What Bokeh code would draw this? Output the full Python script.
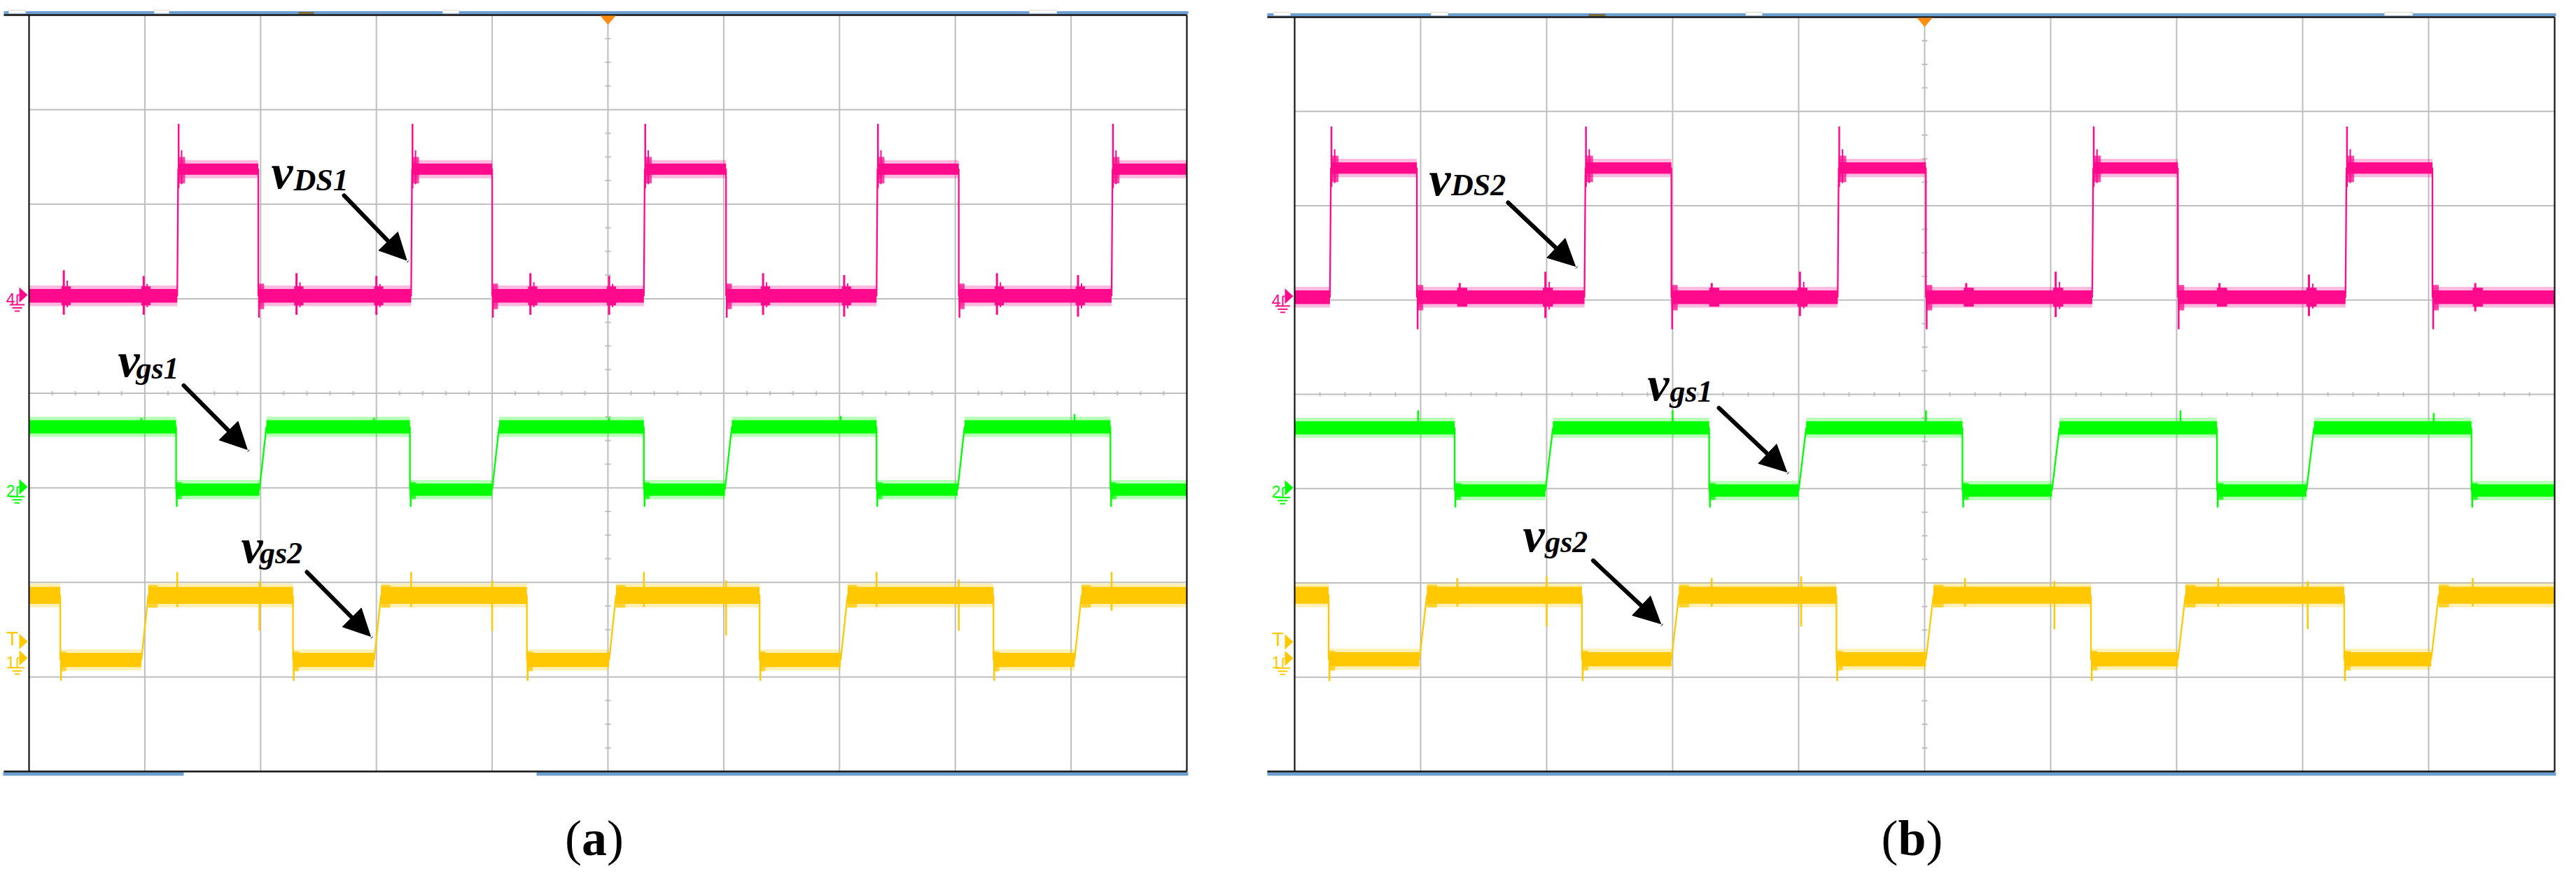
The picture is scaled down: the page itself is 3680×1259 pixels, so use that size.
import numpy as np
from bokeh.plotting import figure
from bokeh.layouts import row
from bokeh.models import Arrow, NormalHead, Range1d
from bokeh.core.properties import value
from bokeh.embed import file_html
from bokeh.resources import INLINE

# ---------------- values (oscilloscope divisions) ----------------
# x: 0..10 time divisions, y: 0..8 vertical divisions (0 = bottom graticule line)

# ----- panel (a)
a_vds_edges = [1.28, 1.98, 3.30, 4.00, 5.31, 6.02, 7.32, 8.03, 9.35]
a_vds_levels = [5.03, 6.37]
a_vgs1_edges = [1.27, 1.99, 3.29, 4.00, 5.31, 6.01, 7.32, 8.02, 9.34]
a_vgs1_levels = [2.98, 3.645]
a_vgs2_edges = [0.27, 0.97, 2.28, 2.98, 4.30, 5.01, 6.31, 7.01, 8.33, 9.03]
a_vgs2_levels = [1.18, 1.862]
a_start_high = [False, True, True]           # vDS, vgs1, vgs2 at t = 0

a_vds_peak, a_vds_dip = 6.85, 4.80
a_vgs1_dip = 2.80
a_vgs2_dip = 0.96

a_vds_burst_t = [0.30, 0.99, 2.31, 3.00, 4.33, 5.01, 6.34, 7.04, 8.36, 9.06]
a_vds_burst_bot = [4.83, 4.83, 4.83, 4.83, 4.83, 4.83, 4.83, 4.81, 4.83, 4.81]
a_vds_burst_top = [5.30, 5.24, 5.27, 5.24, 5.27, 5.24, 5.27, 5.25, 5.27, 5.25]

a_vgs1_spike_t = [0.97, 2.98, 5.01, 7.01, 9.03]
a_vgs1_spike_top = [3.74, 3.74, 3.74, 3.76, 3.78]

a_vgs2_spike_t = [1.28, 1.99, 3.30, 4.00, 5.31, 6.02, 7.32, 8.03, 9.35]
a_vgs2_spike_top = [2.11, 2.01, 2.11, 2.02, 2.11, 2.02, 2.11, 2.03, 2.11]
a_vgs2_spike_bot = [1.74, 1.49, 1.74, 1.49, 1.74, 1.44, 1.74, 1.49, 1.70]

# ----- panel (b)
b_vds_edges = [0.28, 0.97, 2.30, 2.99, 4.31, 5.01, 6.33, 7.01, 8.34, 9.03]
b_vds_levels = [5.03, 6.40]
b_vgs1_edges = [1.27, 1.99, 3.29, 4.00, 5.30, 6.01, 7.32, 8.03, 9.34]
b_vgs1_levels = [2.98, 3.645]
b_vgs2_edges = [0.27, 0.99, 2.28, 2.99, 4.30, 5.01, 6.32, 7.01, 8.33, 9.02]
b_vgs2_levels = [1.19, 1.87]
b_start_high = [False, True, True]

b_vds_peak, b_vds_dip = 6.84, 4.69
b_vgs1_dip = 2.80
b_vgs2_dip = 0.96

b_vds_burst_t = [1.31, 1.99, 3.31, 4.01, 5.33, 6.04, 7.34, 8.05, 9.37]
b_vds_burst_bot = [4.95, 4.81, 4.95, 4.83, 4.95, 4.82, 4.95, 4.83, 4.88]
b_vds_burst_top = [5.18, 5.30, 5.18, 5.30, 5.18, 5.30, 5.18, 5.27, 5.18]

b_vgs1_spike_t = [0.98, 3.00, 5.01, 7.03, 9.04]
b_vgs1_spike_top = [3.83, 3.83, 3.83, 3.83, 3.80]

b_vgs2_spike_t = [1.29, 2.00, 3.31, 4.02, 5.32, 6.03, 7.33, 8.04, 9.35]
b_vgs2_spike_top = [2.05, 2.07, 2.05, 2.07, 2.05, 2.02, 2.05, 2.02, 2.05]
b_vgs2_spike_bot = [1.75, 1.54, 1.75, 1.54, 1.75, 1.51, 1.75, 1.51, 1.75]

# channel reference markers (divisions) and trigger level
ch_labels = ["4", "2", "1"]
ch_refs = [5.04, 3.01, 1.20]
trig_level = 1.375

# annotations: (main, subscript, x, y of main baseline, x, y of subscript baseline)
a_notes = [("v", "DS1", 2.092, 6.343, 2.285, 6.255),
           ("v", "gs1", 0.768, 4.352, 0.925, 4.264),
           ("v", "gs2", 1.832, 2.380, 1.992, 2.306)]
a_arrows = [(2.721, 6.092, 3.262, 5.406),
            (1.336, 4.082, 1.885, 3.405),
            (2.400, 2.109, 2.950, 1.429)]
b_notes = [("v", "DS2", 1.067, 6.286, 1.242, 6.219),
           ("v", "gs1", 2.800, 4.108, 2.978, 4.033),
           ("v", "gs2", 1.811, 2.505, 1.987, 2.431)]
b_arrows = [(1.694, 6.033, 2.228, 5.358),
            (3.367, 3.855, 3.906, 3.176),
            (2.369, 2.237, 2.906, 1.566)]

# ---------------- styles ----------------
PINK = "#ff0a8c"
GREEN = "#00ff00"
YELLOW = "#ffc800"
GRID = "#bebebe"
BLUE = "#6c9fd0"
H = 1242
FRAME_Y0 = 8


def geometry(edges, start_high, lo, hi, rise):
    xs, ys, flats = [0.0], [hi if start_high else lo], []
    state, seg0 = start_high, 0.0
    for e in edges:
        cur = hi if state else lo
        flats.append((seg0, e, state))
        state = not state
        new = hi if state else lo
        xs.append(e); ys.append(cur)
        if state:
            xs.append(e + rise); ys.append(new); seg0 = e + rise
        else:
            xs.append(e); ys.append(new); seg0 = e
    flats.append((seg0, 10.0, state))
    xs.append(10.0); ys.append(hi if state else lo)
    return xs, ys, flats


def draw_trace(p, dy, edges, start_high, levels, hw, color, rise,
               peak=None, dip=None, rise_burst=None, fall_burst=None):
    lo, hi = levels
    xs, ys, flats = geometry(edges, start_high, lo, hi, rise)
    lvl = [hi if f[2] else lo for f in flats]
    h = [hw[1] if f[2] else hw[0] for f in flats]
    L = [f[0] for f in flats]
    R = [f[1] for f in flats]
    # light fringe of the noise
    p.quad(left=L, right=R, bottom=[v - w - dy(5) for v, w in zip(lvl, h)],
           top=[v + w + dy(5) for v, w in zip(lvl, h)],
           fill_color=color, fill_alpha=0.28, line_color=None)
    p.quad(left=L, right=R, bottom=[v - w for v, w in zip(lvl, h)],
           top=[v + w for v, w in zip(lvl, h)], fill_color=color, line_color=None)
    p.line(xs, ys, line_color=color, line_width=2.3)
    st = start_high
    rising, falling = [], []
    for e in edges:
        st = not st
        (rising if st else falling).append(e)
    if peak is not None:
        p.segment(x0=[e + rise + 0.004 for e in rising], y0=hi - 0.2,
                  x1=[e + rise + 0.004 for e in rising], y1=peak,
                  line_color=color, line_width=2.5)
        p.segment(x0=[e + rise + 0.03 for e in rising], y0=hi - 0.16,
                  x1=[e + rise + 0.03 for e in rising], y1=hi + 0.2,
                  line_color=color, line_width=2)
    if dip is not None:
        p.segment(x0=[e + 0.006 for e in falling], y0=lo + 0.05,
                  x1=[e + 0.006 for e in falling], y1=dip,
                  line_color=color, line_width=2.5)
    if rise_burst is not None:
        w, b, t = rise_burst
        p.quad(left=[e + rise for e in rising], right=[e + rise + w for e in rising],
               bottom=hi - b, top=hi + t, fill_color=color, fill_alpha=0.75, line_color=None)
    if fall_burst is not None:
        w, b, t = fall_burst
        p.quad(left=[e for e in falling], right=[e + w for e in falling],
               bottom=lo - b, top=lo + t, fill_color=color, fill_alpha=0.75, line_color=None)


def spikes(p, t, bot, top, color, width=2.5):
    p.segment(x0=t, y0=bot, x1=t, y1=top, line_color=color, line_width=width)


def make_panel(width, frame_x0, left_px, sx, top_px, bottom_px, bar_x, top_notches,
               brown_notch, bottom_bars, traces, notes, arrows, caption, cap_x, cap_y):
    sy = (bottom_px - top_px) / 8.0
    dx = lambda v: v / sx
    dy = lambda v: v / sy
    p = figure(width=width, height=H,
               x_range=Range1d((frame_x0 - left_px) / sx, (frame_x0 + width - left_px) / sx),
               y_range=Range1d((bottom_px - (FRAME_Y0 + H)) / sy, (bottom_px - FRAME_Y0) / sy),
               x_axis_type=None, y_axis_type=None, toolbar_location=None, tools="",
               output_backend="svg", min_border=0, outline_line_color=None,
               background_fill_color="white", border_fill_color="white")

    # graticule
    gx = list(range(1, 10))
    p.segment(x0=gx, y0=0, x1=gx, y1=8, line_color=GRID, line_width=2)
    gy = list(range(1, 8))
    p.segment(x0=0, y0=gy, x1=10, y1=gy, line_color=GRID, line_width=2)
    ty = [k * 0.25 for k in range(1, 32) if k % 4]
    p.segment(x0=5 - dx(4), y0=ty, x1=5 + dx(4), y1=ty, line_color=GRID, line_width=2)
    tx = [k * 0.2 for k in range(1, 50) if k % 5]
    p.segment(x0=tx, y0=4 - dy(3), x1=tx, y1=4 + dy(3), line_color=GRID, line_width=2)

    # traces
    for tr in traces:
        draw_trace(p, dy, **tr["args"])
        col = tr["args"]["color"]
        if "spikes" in tr:
            t, b, tp = tr["spikes"]
            spikes(p, t, b, tp, col)
        if "bursts" in tr:
            t, b, tp = tr["bursts"]
            lo = tr["args"]["levels"][0]
            spikes(p, t, b, tp, col, 3)
            spikes(p, [v + 0.03 for v in t], [lo - 0.6 * (lo - v) for v in b],
                   [lo + 0.6 * (v - lo) for v in tp], col, 2)
            p.quad(left=[v - 0.02 for v in t], right=[v + 0.06 for v in t],
                   bottom=lo - 0.1, top=lo + 0.1, fill_color=col, line_color=None)

    # screen frame and blue bars
    p.quad(left=bar_x[0], right=bar_x[1], bottom=8 + dy(1), top=8 + dy(5.5),
           fill_color=BLUE, line_color=None)
    p.quad(left=[n[0] for n in top_notches], right=[n[1] for n in top_notches],
           bottom=8 + dy(2.5), top=8 + dy(7), fill_color="white", line_color="#d8d8d8", line_width=1)
    p.quad(left=brown_notch[0], right=brown_notch[1], bottom=8 + dy(1), top=8 + dy(4.5),
           fill_color="#7d6c3e", line_color=None)
    p.quad(left=[b[0] for b in bottom_bars], right=[b[1] for b in bottom_bars],
           bottom=-dy(6), top=-dy(1), fill_color=BLUE, line_color=None)
    p.segment(x0=bar_x[0], y0=[8, 0], x1=10, y1=[8, 0], line_color="#111111", line_width=2.5)
    p.segment(x0=[0, 10], y0=0, x1=[0, 10], y1=8, line_color="#111111", line_width=2.2)

    # trigger position marker
    p.patch(x=[5 - dx(11), 5 + dx(11), 5], y=[8 - dy(1), 8 - dy(1), 8 - dy(14)],
            fill_color="#ff8c10", line_color=None)

    # channel markers
    colors = [PINK, GREEN, YELLOW]
    for lab, yc, col in zip(ch_labels, ch_refs, colors):
        p.patch(x=[-dx(14), -dx(2), -dx(14)], y=[yc + dy(11), yc, yc - dy(11)],
                fill_color=col, line_color=None)
        p.text(x=[-dx(20)], y=[yc - dy(6)], text=[lab], text_align="right",
               text_baseline="alphabetic", text_color=col,
               text_font=value("Liberation Sans"), text_font_size=value("23px"))
        gxp = -dx(17)
        p.segment(x0=[gxp, gxp], y0=[yc, yc], x1=[gxp, -dx(14)], y1=[yc - dy(14), yc],
                  line_color=col, line_width=2)
        p.segment(x0=[gxp - dx(10.5), gxp - dx(7), gxp - dx(3.5)],
                  y0=[yc - dy(14), yc - dy(18.5), yc - dy(23)],
                  x1=[gxp + dx(10.5), gxp + dx(7), gxp + dx(3.5)],
                  y1=[yc - dy(14), yc - dy(18.5), yc - dy(23)],
                  line_color=col, line_width=2)
    p.patch(x=[-dx(14), -dx(2), -dx(14)], y=[trig_level + dy(11), trig_level, trig_level - dy(11)],
            fill_color=YELLOW, line_color=None)
    p.text(x=[-dx(24)], y=[trig_level + dy(4)], text=["T"], text_align="center",
           text_baseline="alphabetic", text_color=YELLOW,
           text_font=value("Liberation Sans"), text_font_size=value("28px"))

    # annotations
    for main, sub, x1, y1, x2, y2 in notes:
        p.text(x=[x1], y=[y1], text=[main], text_font=value("Liberation Serif"),
               text_font_style="bold italic", text_font_size=value("70px"),
               text_baseline="alphabetic", text_align="left", text_color="black")
        p.text(x=[x2], y=[y2], text=[sub], text_font=value("Liberation Serif"),
               text_font_style="bold italic", text_font_size=value("44px"),
               text_baseline="alphabetic", text_align="left", text_color="black")
    for xs_, ys_, xe, ye in arrows:
        p.add_layout(Arrow(end=NormalHead(size=38, fill_color="black", line_color="black",
                                          line_width=1),
                           x_start=xs_, y_start=ys_, x_end=xe, y_end=ye,
                           line_color="black", line_width=6, line_cap="round"))

    # caption "(a)" / "(b)"
    half = dx(caption[1])
    p.text(x=[cap_x], y=[cap_y], text=[caption[0]], text_font=value("Liberation Serif"),
           text_font_style="bold", text_font_size=value("72px"), text_align="center",
           text_baseline="alphabetic", text_color="black")
    p.text(x=[cap_x - half, cap_x + half], y=[cap_y, cap_y], text=["(", ")"],
           text_font=value("Liberation Serif"), text_font_size=value("72px"),
           text_align=["right", "left"], text_baseline="alphabetic", text_color="black")
    return p


def traces_for(vds_e, vds_l, g1_e, g1_l, g2_e, g2_l, start, vds_pk, vds_dp, g1_dp, g2_dp,
               vds_bt, vds_bb, vds_btop, g1_st, g1_stop, g2_st, g2_sb, g2_stop):
    return [
        dict(args=dict(edges=vds_e, start_high=start[0], levels=vds_l,
                       hw=(0.072, 0.06), color=PINK, rise=0.008,
                       peak=vds_pk, dip=vds_dp,
                       rise_burst=(0.06, 0.15, 0.13), fall_burst=(0.05, 0.14, 0.13)),
             bursts=(vds_bt, vds_bb, vds_btop)),
        dict(args=dict(edges=g1_e, start_high=start[1], levels=g1_l,
                       hw=(0.065, 0.07), color=GREEN, rise=0.06,
                       dip=g1_dp, fall_burst=(0.05, 0.1, 0.08)),
             spikes=(g1_st, [g1_l[1]] * len(g1_st), g1_stop)),
        dict(args=dict(edges=g2_e, start_high=start[2], levels=g2_l,
                       hw=(0.075, 0.09), color=YELLOW, rise=0.06,
                       dip=g2_dp, rise_burst=(0.08, 0.13, 0.11),
                       fall_burst=(0.05, 0.12, 0.09)),
             spikes=(g2_st, g2_sb, g2_stop)),
    ]


tr_a = traces_for(a_vds_edges, a_vds_levels, a_vgs1_edges, a_vgs1_levels, a_vgs2_edges,
                  a_vgs2_levels, a_start_high, a_vds_peak, a_vds_dip, a_vgs1_dip, a_vgs2_dip,
                  a_vds_burst_t, a_vds_burst_bot, a_vds_burst_top, a_vgs1_spike_t,
                  a_vgs1_spike_top, a_vgs2_spike_t, a_vgs2_spike_bot, a_vgs2_spike_top)
tr_b = traces_for(b_vds_edges, b_vds_levels, b_vgs1_edges, b_vgs1_levels, b_vgs2_edges,
                  b_vgs2_levels, b_start_high, b_vds_peak, b_vds_dip, b_vgs1_dip, b_vgs2_dip,
                  b_vds_burst_t, b_vds_burst_bot, b_vds_burst_top, b_vgs1_spike_t,
                  b_vgs1_spike_top, b_vgs2_spike_t, b_vgs2_spike_bot, b_vgs2_spike_top)

pa = make_panel(1772, 8, 49, 165.4, 29, 1110,
                bar_x=(-0.218, 10.012),
                top_notches=[(-0.175, -0.030), (1.082, 1.209), (3.573, 3.712), (8.640, 8.876)],
                brown_notch=(2.328, 2.461),
                bottom_bars=[(-0.224, 1.336), (4.383, 10.012)],
                traces=tr_a, notes=a_notes, arrows=a_arrows,
                caption=("a", 18), cap_x=4.882, cap_y=-0.708)
pb = make_panel(1892, 1780, 1857, 180.0, 32, 1110,
                bar_x=(-0.217, 10.011),
                top_notches=[(-0.167, -0.033), (1.083, 1.217), (3.581, 3.711), (8.650, 8.872)],
                brown_notch=(2.333, 2.467),
                bottom_bars=[(-0.217, 10.011)],
                traces=tr_b, notes=b_notes, arrows=b_arrows,
                caption=("b", 20), cap_x=4.900, cap_y=-0.709)

layout = row(pa, pb)
open("out.html", "w").write(file_html(layout, INLINE, title="Oscilloscope waveforms"))
